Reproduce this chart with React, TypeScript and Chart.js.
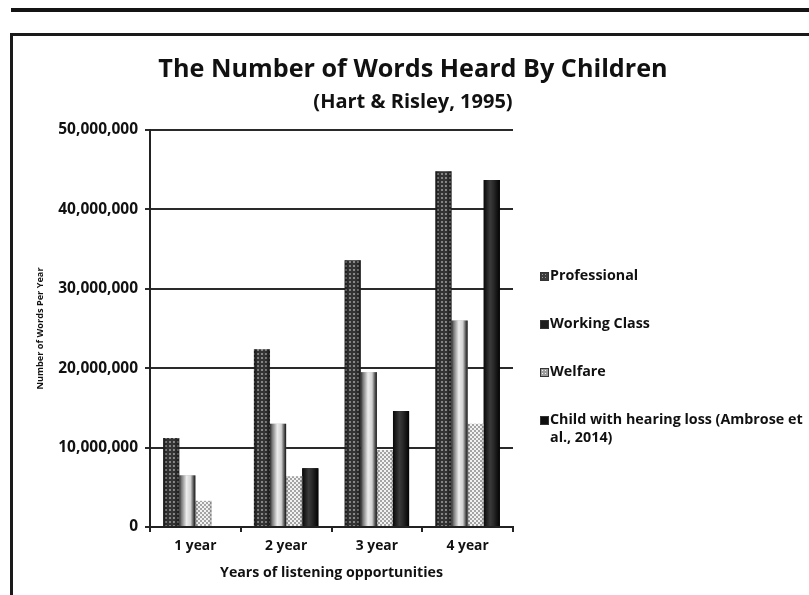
import React, { useEffect, useRef } from "react";
import { Chart, registerables } from "chart.js";

Chart.register(...registerables);

// ---- data ----
const CATEGORIES = ["1 year", "2 year", "3 year", "4 year"];
const PROFESSIONAL = [11200000, 22400000, 33600000, 44800000];
const WORKING_CLASS = [6500000, 13000000, 19500000, 26000000];
const WELFARE = [3300000, 6400000, 9700000, 13000000];
const HEARING_LOSS = [null, 7400000, 14600000, 43700000];
const SERIES_NAMES: (string | string[])[] = [
  "Professional",
  "Working Class",
  "Welfare",
  ["Child with hearing loss (Ambrose et", "al., 2014)"],
];
const Y_MIN = 0;
const Y_MAX = 50000000;
const Y_STEP = 10000000;

const TITLE = "The Number of Words Heard By Children";
const SUBTITLE = "(Hart & Risley, 1995)";
const X_TITLE = "Years of listening opportunities";
const Y_TITLE = "Number of Words Per Year";

const FONT = "'Open Sans', 'Noto Sans', sans-serif";

// horizontal shading laid over each bar (per series)
const SHADING: [number, string][][] = [
  [
    [0, "rgba(0,0,0,0.6)"],
    [0.25, "rgba(0,0,0,0.15)"],
    [0.65, "rgba(0,0,0,0.08)"],
    [1, "rgba(0,0,0,0.55)"],
  ],
  [
    [0, "#2e2e2e"],
    [0.14, "#7a7a7a"],
    [0.45, "#ececec"],
    [0.7, "#d2d2d2"],
    [0.88, "#565656"],
    [1, "#151515"],
  ],
  [
    [0, "rgba(0,0,0,0.3)"],
    [0.15, "rgba(0,0,0,0)"],
    [0.85, "rgba(0,0,0,0)"],
    [1, "rgba(0,0,0,0.3)"],
  ],
  [
    [0, "#080808"],
    [0.4, "#3a3a3a"],
    [0.6, "#2a2a2a"],
    [1, "#020202"],
  ],
];

const LEGEND_SWATCH = [
  "radial-gradient(circle, #9a9a9a 35%, #3c3c3c 40%) 0 0 / 3px 3px",
  "#1e1e1e",
  "radial-gradient(circle, #f4f4f4 35%, #9c9c9c 45%) 0 0 / 3px 3px",
  "#0e0e0e",
];

function makePattern(
  size: number,
  bg: string,
  fg: string,
  cells: [number, number, number][]
): CanvasPattern | string {
  const c = document.createElement("canvas");
  c.width = size;
  c.height = size;
  const g = c.getContext("2d");
  if (!g) return bg;
  g.fillStyle = bg;
  g.fillRect(0, 0, size, size);
  g.fillStyle = fg;
  cells.forEach(([x, y, s]) => g.fillRect(x, y, s, s));
  const p = g.createPattern(c, "repeat");
  return p || bg;
}

const barShading = {
  id: "barShading",
  afterDatasetDraw(chart: any, args: any) {
    const stops = SHADING[args.index];
    if (!stops) return;
    const ctx: CanvasRenderingContext2D = chart.ctx;
    args.meta.data.forEach((bar: any) => {
      const { x, y, base, width } = bar.getProps(["x", "y", "base", "width"], true);
      if (!Number.isFinite(y) || !Number.isFinite(base)) return;
      const left = x - width / 2;
      const g = ctx.createLinearGradient(left, 0, left + width, 0);
      stops.forEach(([s, c]) => g.addColorStop(s, c));
      ctx.save();
      ctx.fillStyle = g;
      ctx.fillRect(left, Math.min(y, base), width, Math.abs(base - y));
      ctx.restore();
    });
  },
};

export default function App() {
  const canvasRef = useRef<HTMLCanvasElement | null>(null);

  useEffect(() => {
    const canvas = canvasRef.current;
    if (!canvas) return;

    const profFill = makePattern(4, "#3a3a3a", "#969696", [[1, 1, 2]]);
    const welfareFill = makePattern(4, "#f2f2f2", "#a4a4a4", [
      [0, 0, 2],
      [2, 2, 2],
    ]);

    const chart = new Chart(canvas, {
      type: "bar",
      data: {
        labels: CATEGORIES,
        datasets: [
          { label: "Professional", data: PROFESSIONAL, backgroundColor: profFill as any },
          { label: "Working Class", data: WORKING_CLASS, backgroundColor: "#b0b0b0" },
          { label: "Welfare", data: WELFARE, backgroundColor: welfareFill as any },
          { label: "Child with hearing loss (Ambrose et al., 2014)", data: HEARING_LOSS, backgroundColor: "#111111" },
        ],
      },
      options: {
        responsive: false,
        animation: false,
        devicePixelRatio: 1,
        layout: { padding: { left: 30, right: 296, top: 130, bottom: 0 } },
        datasets: {
          bar: { categoryPercentage: 0.71, barPercentage: 1.0 },
        },
        plugins: {
          legend: { display: false },
          title: { display: false },
          tooltip: { enabled: false },
        },
        scales: {
          x: {
            afterFit: (scale: any) => {
              scale.height = 68;
            },
            grid: {
              display: true,
              offset: true,
              drawOnChartArea: false,
              drawTicks: true,
              tickLength: 5,
              color: "#222",
              lineWidth: 2,
            },
            border: { display: true, color: "#222", width: 2 },
            ticks: {
              color: "#111",
              padding: 6,
              font: { family: FONT, size: 13.8, weight: "bold" },
            },
            title: {
              display: true,
              text: X_TITLE,
              color: "#111",
              padding: { top: 0, bottom: 14 },
              font: { family: FONT, size: 14.2, weight: "bold" },
            },
          },
          y: {
            min: Y_MIN,
            max: Y_MAX,
            afterFit: (scale: any) => {
              scale.width = 120;
            },
            grid: {
              color: "#2a2a2a",
              lineWidth: 2,
              drawTicks: true,
              tickLength: 5,
            },
            border: { display: true, color: "#222", width: 2 },
            ticks: {
              stepSize: Y_STEP,
              color: "#111",
              padding: 7,
              font: { family: FONT, size: 15.5, weight: "bold" },
              callback: (v: any) => Number(v).toLocaleString("en-US"),
            },
            title: {
              display: true,
              text: Y_TITLE,
              color: "#111",
              padding: { top: 5, bottom: 0 },
              font: { family: FONT, size: 9.2, weight: "bold" },
            },
          },
        },
      },
      plugins: [barShading],
    });

    return () => chart.destroy();
  }, []);

  return (
    <div
      style={{
        position: "absolute",
        left: 0,
        top: 0,
        width: 809,
        height: 595,
        background: "#ffffff",
        overflow: "hidden",
        fontFamily: FONT,
        color: "#111",
      }}
    >
      <div style={{ position: "absolute", left: 11, right: 0, top: 8, height: 4, background: "#141414" }} />
      <div
        style={{
          position: "absolute",
          left: 10,
          right: 0,
          top: 33,
          bottom: 0,
          borderTop: "3px solid #1a1a1a",
          borderLeft: "3px solid #1a1a1a",
        }}
      />
      <canvas
        ref={canvasRef}
        width={809}
        height={595}
        style={{ position: "absolute", left: 0, top: 0, width: 809, height: 595 }}
      />
      <div
        style={{
          position: "absolute",
          left: 0,
          width: 826,
          top: 51,
          textAlign: "center",
          fontSize: 25.2,
          lineHeight: "32px",
          fontWeight: 700,
        }}
      >
        {TITLE}
      </div>
      <div
        style={{
          position: "absolute",
          left: 0,
          width: 826,
          top: 88,
          textAlign: "center",
          fontSize: 20,
          lineHeight: "26px",
          fontWeight: 700,
        }}
      >
        {SUBTITLE}
      </div>
      <div style={{ position: "absolute", left: 540, top: 266, width: 269 }}>
        {SERIES_NAMES.map((name, i) => {
          const lines = Array.isArray(name) ? name : [name];
          return (
            <div key={i} style={{ display: "flex", alignItems: "flex-start", height: 48 }}>
              <div
                style={{
                  width: 7,
                  height: 7,
                  marginTop: 6,
                  marginRight: 1,
                  flex: "none",
                  background: LEGEND_SWATCH[i],
                  border: "0.5px solid #333",
                }}
              />
              <div style={{ fontSize: 14.3, lineHeight: "18px", fontWeight: 700, whiteSpace: "nowrap" }}>
                {lines.map((l, j) => (
                  <div key={j}>{l}</div>
                ))}
              </div>
            </div>
          );
        })}
      </div>
    </div>
  );
}
